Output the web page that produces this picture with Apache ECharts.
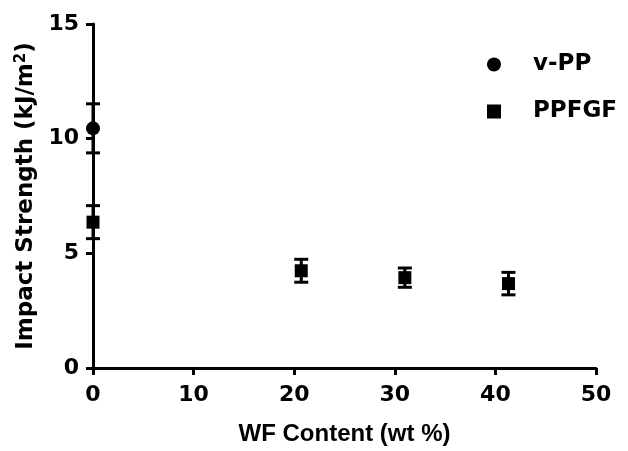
<!DOCTYPE html>
<html lang="en">
<head>
  <meta charset="UTF-8">
  <title>impact strength</title>
  <script src="https://cdn.jsdelivr.net/npm/echarts@6/dist/echarts.min.js"></script>
  <style>
    body { margin: 0; background: #fff; }
  </style>
</head>
<body>
  <div id="main" style="width: 628px;height: 451px;"></div>
  <script type="text/javascript">
    // values
    var vppX = [0]
    var vppY = [10.45]
    var vppErr = [1.07]

    var fgfX = [0, 20.7, 31.0, 41.3]
    var fgfY = [6.36, 4.24, 3.94, 3.68]
    var fgfErr = [0.72, 0.5, 0.42, 0.49]

    var xTicks = [0, 10, 20, 30, 40, 50]
    var yTicks = [0, 5, 10, 15]

    var ARIAL = '"Liberation Sans", Arial, sans-serif'
    var WIDE = '"DejaVu Sans", sans-serif'

    function pairs(xs, ys) {
      return xs.map(function (x, i) { return [x, ys[i]] })
    }
    function errRows(xs, ys, es) {
      return xs.map(function (x, i) { return [x, ys[i] - es[i], ys[i] + es[i]] })
    }

    function renderErr(params, api) {
      var x = api.value(0)
      var lo = api.coord([x, api.value(1)])
      var hi = api.coord([x, api.value(2)])
      var half = 7
      var style = { stroke: '#000', lineWidth: 3 }
      return {
        type: 'group',
        children: [
          { type: 'line', shape: { x1: hi[0], y1: hi[1], x2: lo[0], y2: lo[1] }, style: style },
          { type: 'line', shape: { x1: hi[0] - half, y1: hi[1], x2: hi[0] + half, y2: hi[1] }, style: style },
          { type: 'line', shape: { x1: lo[0] - half, y1: lo[1], x2: lo[0] + half, y2: lo[1] }, style: style }
        ]
      }
    }

    function tickLabel(margin) {
      return { margin: margin, fontFamily: WIDE, fontWeight: 'bold', fontSize: 22, color: '#000' }
    }

    var myChart = echarts.init(document.getElementById('main'))

    myChart.setOption({
      backgroundColor: '#fff',
      animation: false,
      grid: { left: 93, right: 32, top: 24, bottom: 81 },
      legend: {
        orient: 'vertical',
        left: 482,
        top: 48,
        itemGap: 24,
        itemWidth: 14,
        itemHeight: 14,
        textStyle: {
          fontFamily: WIDE, fontWeight: 'bold', fontSize: 23, color: '#000',
          padding: [0, 0, 0, 27]
        },
        data: [
          { name: 'v-PP', icon: 'circle' },
          { name: 'PPFGF', icon: 'rect' }
        ]
      },
      xAxis: {
        type: 'value',
        min: xTicks[0],
        max: xTicks[xTicks.length - 1],
        interval: 10,
        name: 'WF Content (wt %)',
        nameLocation: 'middle',
        nameGap: 54,
        nameTextStyle: { fontFamily: ARIAL, fontWeight: 'bold', fontSize: 24, color: '#000' },
        axisLine: { onZero: false, lineStyle: { color: '#000', width: 3 } },
        axisTick: { length: 7, lineStyle: { color: '#000', width: 3 } },
        axisLabel: tickLabel(16),
        splitLine: { show: false }
      },
      yAxis: {
        type: 'value',
        min: yTicks[0],
        max: yTicks[yTicks.length - 1],
        interval: 5,
        name: 'Impact Strength (kJ/m{sup|2})',
        nameLocation: 'middle',
        nameGap: 50,
        nameTextStyle: {
          fontFamily: WIDE, fontWeight: 'bold', fontSize: 23, color: '#000',
          rich: {
            sup: { fontFamily: WIDE, fontWeight: 'bold', fontSize: 15, color: '#000', verticalAlign: 'top', padding: [0, 0, 10, 0] }
          }
        },
        axisLine: { onZero: false, lineStyle: { color: '#000', width: 3 } },
        axisTick: { length: 7, lineStyle: { color: '#000', width: 3 } },
        axisLabel: tickLabel(14),
        splitLine: { show: false }
      },
      series: [
        {
          type: 'custom',
          name: 'v-PP err',
          renderItem: renderErr,
          data: errRows(vppX, vppY, vppErr),
          z: 3,
          silent: true
        },
        {
          type: 'custom',
          name: 'PPFGF err',
          renderItem: renderErr,
          data: errRows(fgfX, fgfY, fgfErr),
          z: 3,
          silent: true
        },
        {
          type: 'scatter',
          name: 'v-PP',
          symbol: 'circle',
          symbolSize: 14,
          itemStyle: { color: '#000', opacity: 1 },
          data: pairs(vppX, vppY),
          z: 5
        },
        {
          type: 'scatter',
          name: 'PPFGF',
          symbol: 'rect',
          symbolSize: 13,
          itemStyle: { color: '#000', opacity: 1 },
          data: pairs(fgfX, fgfY),
          z: 5
        }
      ]
    });
  </script>
</body>
</html>
